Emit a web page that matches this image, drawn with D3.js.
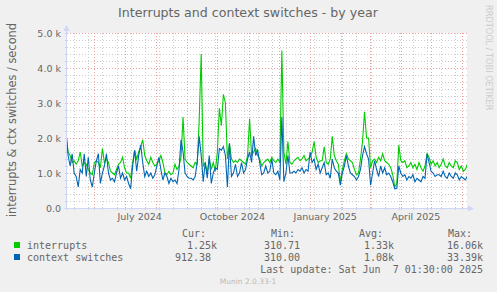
<!DOCTYPE html>
<html>
<head>
<meta charset="utf-8">
<script src="https://cdn.jsdelivr.net/npm/d3@7"></script>
<style>
  body { margin: 0; background: #f0f0f0; }
  svg { display: block; }
  text { fill: #666; }
</style>
</head>
<body>
<script>
// samples every 2 days, starting 2024-05-04
var startDate = new Date(2024, 4, 4)
var stepDays = 2

var interrupts = [
  2100, 1600, 1500, 1300, 1350, 1250, 1350, 1600, 1200, 1300,
  1250, 1100, 1000, 950, 1300, 1350, 1300, 1150, 1700, 1300,
  1400, 1300, 1050, 1000, 950, 1100, 1250, 1300, 1450, 1150,
  1000, 1000, 850, 1300, 1650, 1400, 1600, 1750, 1950, 1500,
  1350, 1250, 1450, 1300, 1200, 1250, 1350, 1500, 1300, 1000,
  950, 1050, 950, 1000, 1250, 1100, 1200, 1450, 2600, 1400,
  1300, 1250, 1200, 1150, 1300, 1250, 2500, 4400, 1200, 1300,
  1000, 1400, 1100, 1300, 1050, 1600, 2850, 2350, 3250, 3000,
  1400, 1850, 1400, 1300, 1350, 1300, 1400, 1350, 1300, 1250,
  1500, 2550, 1500, 1600, 1700, 1500, 1400, 1200, 1300, 1350,
  1400, 1300, 1450, 1350, 1300, 1400, 1300, 4500, 1600, 1250,
  1900, 1300, 1250, 1350, 1400, 1450, 1350, 1400, 1500, 1350,
  1400, 1450, 1600, 1900, 1450, 1300, 1350, 1350, 1750, 1300,
  1250, 1400, 2050, 1500, 1350, 1250, 750, 1100, 1350, 1550,
  1400, 1350, 1300, 1100, 950, 1000, 1400, 1900, 2750, 2000,
  2000, 1150, 1350, 1400, 1300, 1450, 1350, 1550, 1350, 1300,
  1250, 1150, 950, 600, 700, 1800, 1350, 1300, 1350, 1150,
  1200, 1300, 1150, 1250, 1100, 1300, 1150, 1050, 1200, 1550,
  1450, 1250, 1350, 1200, 1300, 1150, 1250, 1400, 1200, 1150,
  1300, 1200, 1150, 1350, 1300, 1100, 1200, 1050, 1100, 1250
]

var ctxSwitches = [
  2130, 1500, 1200, 1550, 1000, 900, 600, 1100, 1000, 1550,
  900, 1450, 800, 600, 1000, 1350, 1550, 700, 1000, 1200,
  1550, 1000, 800, 850, 750, 1000, 1200, 850, 1000, 800,
  900, 700, 550, 1200, 1650, 1050, 1500, 1800, 1300, 900,
  1050, 900, 1000, 850, 950, 1200, 1450, 1100, 800, 1000,
  900, 700, 850, 750, 800, 700, 1100, 1950, 1600, 1000,
  900, 850, 850, 800, 900, 1300, 2050, 1500, 750, 1300,
  850, 1500, 700, 1000, 1150, 1100, 1700, 1650, 1750, 1500,
  600, 1850, 900, 1000, 1250, 900, 1000, 1300, 1000, 1100,
  1400, 1600, 1300, 2050, 1500, 1650, 1300, 950, 1000, 1200,
  1000, 1050, 1400, 1000, 950, 1050, 800, 2600, 750, 1000,
  1500, 1000, 1000, 1050, 1000, 1100, 1050, 1150, 1000, 1100,
  1050, 1600, 1300, 1400, 1100, 1250, 1000, 1150, 1300, 950,
  1000, 850, 1400, 1150, 1050, 1000, 650, 1000, 1200, 1500,
  1200, 1000, 950, 900, 800, 900, 1100, 1500, 1750, 1550,
  1400, 650, 1000, 1350, 1100, 900, 1200, 1000, 1150, 950,
  1000, 900, 750, 550, 560, 1200, 1000, 900, 950, 800,
  900, 850, 950, 750, 850, 800, 750, 900, 850, 1550,
  1300, 1050, 1000, 900, 950, 950, 900, 1050, 900, 850,
  1000, 900, 850, 1000, 950, 800, 900, 850, 800, 912
]

var yTicks = [0, 1000, 2000, 3000, 4000, 5000]
var yTickLabels = ["0.0", "1.0 k", "2.0 k", "3.0 k", "4.0 k", "5.0 k"]
var monthLabels = ["July 2024", "October 2024", "January 2025", "April 2025"]
var monthLabelDates = [new Date(2024, 6, 16), new Date(2024, 9, 16), new Date(2025, 0, 16), new Date(2025, 3, 16)]

var legendNames = ["interrupts", "context switches"]
var legendColors = ["#00cc00", "#0066b3"]
var legendCur = ["1.25k", "912.38"]
var legendMin = ["310.71", "310.00"]
var legendAvg = ["1.33k", "1.08k"]
var legendMax = ["16.06k", "33.39k"]

var width = 497,
    height = 292

var plotL = 66.5, plotR = 467, plotT = 33, plotB = 208

var svg = d3.select("body").append("svg")
    .attr("width", width)
    .attr("height", height)

svg.append("rect").attr("width", width).attr("height", height).attr("fill", "#f0f0f0")

var x = d3.scaleTime()
    .domain([startDate, new Date(2025, 5, 7)])
    .range([66.1, 66.1 + 399 * 1.0082])

var y = d3.scaleLinear()
    .domain([0, 5000])
    .range([plotB, plotT])

function dateAt(i) {
    return d3.timeDay.offset(startDate, i * stepDays)
}

/* canvas */
svg.append("rect")
    .attr("x", plotL).attr("y", plotT)
    .attr("width", plotR - plotL).attr("height", plotB - plotT)
    .attr("fill", "#fff")

var grid = svg.append("g").attr("shape-rendering", "crispEdges")

/* minor grid */
var minorX = d3.range(0, 29).map(function (k) { return d3.timeDay.offset(new Date(2024, 4, 12), k * 14) })
    .filter(function (d) { return x(d) < plotR })
var minorY = d3.range(200, 5000, 200).filter(function (v) { return v % 1000 != 0 })

grid.selectAll("line.minx").data(minorX).enter().append("line")
    .attr("x1", function (d) { return Math.round(x(d)) + 0.5 })
    .attr("x2", function (d) { return Math.round(x(d)) + 0.5 })
    .attr("y1", plotT).attr("y2", plotB)
    .attr("stroke", "#cccccc").attr("stroke-dasharray", "1,2")

grid.selectAll("line.miny").data(minorY).enter().append("line")
    .attr("x1", plotL).attr("x2", plotR)
    .attr("y1", function (d) { return Math.round(y(d)) + 0.5 })
    .attr("y2", function (d) { return Math.round(y(d)) + 0.5 })
    .attr("stroke", "#cccccc").attr("stroke-dasharray", "1,2")

/* major grid */
var majorX = d3.timeMonth.range(new Date(2024, 5, 1), new Date(2025, 5, 2))
grid.selectAll("line.majx").data(majorX).enter().append("line")
    .attr("x1", function (d) { return Math.round(x(d)) + 0.5 })
    .attr("x2", function (d) { return Math.round(x(d)) + 0.5 })
    .attr("y1", plotT).attr("y2", plotB)
    .attr("stroke", "#f0a0a0").attr("stroke-dasharray", "1,2")

grid.selectAll("line.majy").data(yTicks.slice(1)).enter().append("line")
    .attr("x1", plotL).attr("x2", plotR)
    .attr("y1", function (d) { return Math.round(y(d)) + 0.5 })
    .attr("y2", function (d) { return Math.round(y(d)) + 0.5 })
    .attr("stroke", "#f0a0a0").attr("stroke-dasharray", "1,2")

/* small ticks outside the canvas */
grid.selectAll("line.ty").data(minorY.concat(yTicks)).enter().append("line")
    .attr("x1", plotL - 2).attr("x2", plotL)
    .attr("y1", function (d) { return Math.round(y(d)) + 0.5 })
    .attr("y2", function (d) { return Math.round(y(d)) + 0.5 })
    .attr("stroke", "#cccccc")
grid.selectAll("line.tx").data(minorX.concat(majorX)).enter().append("line")
    .attr("x1", function (d) { return Math.round(x(d)) + 0.5 })
    .attr("x2", function (d) { return Math.round(x(d)) + 0.5 })
    .attr("y1", plotB).attr("y2", plotB + 2)
    .attr("stroke", "#cccccc")

/* data lines */
var line = d3.line()
    .x(function (d, i) { return x(dateAt(i)) })
    .y(function (d) { return y(d) })

var plot = svg.append("g")
plot.append("clipPath").attr("id", "clip").append("rect")
    .attr("x", plotL).attr("y", 0).attr("width", plotR - plotL).attr("height", plotB)

plot.append("path").datum(interrupts)
    .attr("d", line).attr("fill", "none")
    .attr("stroke", legendColors[0]).attr("stroke-width", 1.1)
    .attr("clip-path", "url(#clip)")

plot.append("path").datum(ctxSwitches)
    .attr("d", line).attr("fill", "none")
    .attr("stroke", legendColors[1]).attr("stroke-width", 1.1)
    .attr("clip-path", "url(#clip)")

/* axes with arrows */
var axisColor = "#cfd6f8"
svg.append("line")
    .attr("x1", plotL - 2).attr("x2", plotR + 2)
    .attr("y1", plotB + 0.5).attr("y2", plotB + 0.5)
    .attr("stroke", axisColor)
svg.append("line")
    .attr("x1", plotL).attr("x2", plotL)
    .attr("y1", plotB + 2).attr("y2", plotT - 3)
    .attr("stroke", axisColor)
svg.append("path")
    .attr("d", "M" + (plotR + 7) + "," + (plotB + 0.5) + "L" + (plotR + 1) + "," + (plotB - 2.5) + "L" + (plotR + 1) + "," + (plotB + 3.5) + "Z")
    .attr("fill", axisColor)
svg.append("path")
    .attr("d", "M" + plotL + "," + (plotT - 8) + "L" + (plotL - 3) + "," + (plotT - 2) + "L" + (plotL + 3) + "," + (plotT - 2) + "Z")
    .attr("fill", axisColor)

/* tick labels */
svg.selectAll("text.yl").data(yTicks).enter().append("text")
    .attr("x", 61).attr("y", function (d) { return y(d) + 3.5 })
    .attr("text-anchor", "end")
    .style("font", "9.5px 'DejaVu Sans'")
    .text(function (d, i) { return yTickLabels[i] })

svg.selectAll("text.xl").data(monthLabelDates).enter().append("text")
    .attr("x", function (d) { return x(d) }).attr("y", 220)
    .attr("text-anchor", "middle")
    .style("font", "9.5px 'DejaVu Sans'")
    .text(function (d, i) { return monthLabels[i] })

/* titles */
svg.append("text")
    .attr("x", 248).attr("y", 17)
    .attr("text-anchor", "middle")
    .style("font", "12.6px 'DejaVu Sans'")
    .text("Interrupts and context switches - by year")

svg.append("text")
    .attr("transform", "translate(15.5,120) rotate(-90)")
    .attr("text-anchor", "middle")
    .style("font", "11.4px 'DejaVu Sans'")
    .text("interrupts & ctx switches / second")

svg.append("text")
    .attr("transform", "translate(485.5,5) rotate(90)")
    .attr("text-anchor", "start")
    .style("font", "8.2px 'DejaVu Sans'")
    .style("fill", "#cccccc")
    .text("RRDTOOL / TOBI OETIKER")

/* legend */
var mono = "10px 'DejaVu Sans Mono'"
var heads = [["Cur:", 182], ["Min:", 271], ["Avg:", 359], ["Max:", 448]]
svg.selectAll("text.head").data(heads).enter().append("text")
    .attr("x", function (d) { return d[1] }).attr("y", 237)
    .style("font", mono)
    .text(function (d) { return d[0] })

var rows = svg.selectAll("g.row").data(legendNames).enter().append("g")
    .attr("transform", function (d, i) { return "translate(0," + (249 + i * 12) + ")" })

rows.append("rect")
    .attr("x", 14).attr("y", -7).attr("width", 6).attr("height", 6)
    .attr("fill", function (d, i) { return legendColors[i] })

rows.append("text").attr("x", 27).style("font", mono).text(function (d) { return d })

var cols = [[legendCur, 217], [legendMin, 300], [legendAvg, 394], [legendMax, 483]]
cols.forEach(function (c) {
    rows.append("text")
        .attr("x", function (d, i) { return c[0][i].indexOf("k") < 0 && c[1] == 217 ? c[1] - 6 : c[1] })
        .attr("text-anchor", "end")
        .style("font", mono)
        .text(function (d, i) { return c[0][i] })
})

svg.append("text")
    .attr("x", 483).attr("y", 273)
    .attr("text-anchor", "end")
    .style("font", mono)
    .style("white-space", "pre")
    .attr("xml:space", "preserve")
    .text("Last update: Sat Jun  7 01:30:00 2025")

svg.append("text")
    .attr("x", 248).attr("y", 284)
    .attr("text-anchor", "middle")
    .style("font", "7.5px 'DejaVu Sans'")
    .style("fill", "#bbbbbb")
    .text("Munin 2.0.33-1")
</script>
</body>
</html>
